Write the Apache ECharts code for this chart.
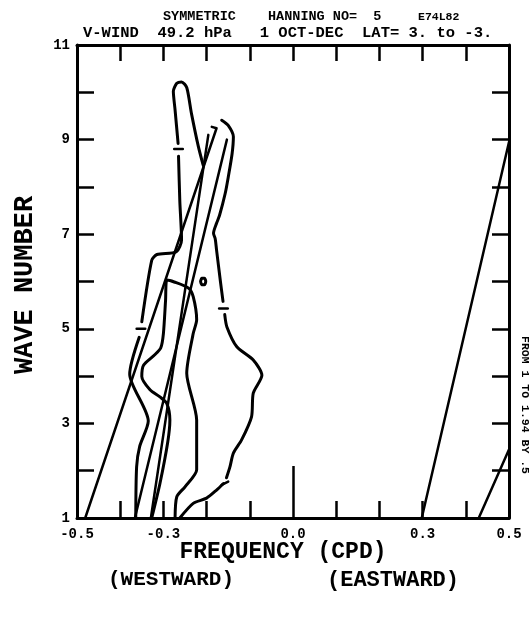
<!DOCTYPE html>
<html>
<head>
<meta charset="utf-8">
<script src="https://cdn.jsdelivr.net/npm/echarts@6/dist/echarts.min.js"></script>
<style>
  html, body { margin: 0; padding: 0; background: #fff; }
  #chart { width: 532px; height: 617px; }
</style>
</head>
<body>
<div id="chart"></div>
<script>
// Axis ticks and labels
const xTickValues = [-0.4, -0.3, -0.2, -0.1, 0.0, 0.1, 0.2, 0.3, 0.4];
const xLabelValues = [-0.5, -0.3, 0.0, 0.3, 0.5];
const yTickValues = [2, 3, 4, 5, 6, 7, 8, 9, 10];
const yLabelValues = [1, 3, 5, 7, 9, 11];

// Contour level 1.0: outer ridge, left flank and finger (label gaps split it)
const outerLeftLow = [
  [-0.364, 1.0], [-0.362, 2.08], [-0.355, 2.51], [-0.335, 3.05],
  [-0.378, 4.04], [-0.356, 4.82]
];
const outerLeftHigh = [
  [-0.350, 5.15], [-0.327, 6.45], [-0.315, 6.57], [-0.270, 6.63],
  [-0.258, 6.88], [-0.262, 7.70], [-0.265, 8.65]
];
const fingerTop = [
  [-0.266, 8.92], [-0.273, 9.63], [-0.277, 10.02], [-0.269, 10.19],
  [-0.258, 10.22], [-0.246, 10.10], [-0.235, 9.55], [-0.219, 8.85],
  [-0.208, 8.46]
];
// Contour level 1.0: right tip, right flank and lobe
const outerRightHigh = [
  [-0.165, 9.41], [-0.150, 9.30], [-0.138, 9.06], [-0.141, 8.70],
  [-0.150, 8.20], [-0.157, 7.86], [-0.170, 7.40], [-0.177, 7.23],
  [-0.184, 7.02], [-0.180, 6.90], [-0.177, 6.67], [-0.168, 6.00],
  [-0.162, 5.58]
];
const outerRightLow = [
  [-0.158, 5.30], [-0.153, 5.04], [-0.130, 4.62], [-0.092, 4.34],
  [-0.072, 4.02], [-0.092, 3.64], [-0.096, 3.14], [-0.119, 2.65],
  [-0.138, 2.37], [-0.146, 2.08], [-0.154, 1.85]
];
const outerBottom = [
  [-0.161, 1.73], [-0.177, 1.59], [-0.200, 1.42], [-0.231, 1.31],
  [-0.262, 1.0]
];
// Contour level 1.5: inner ridge
const innerRidge = [
  [-0.327, 1.0], [-0.308, 1.73], [-0.290, 2.60], [-0.285, 3.07],
  [-0.292, 3.42], [-0.308, 3.56], [-0.331, 3.71], [-0.350, 3.99],
  [-0.346, 4.23], [-0.320, 4.45], [-0.306, 4.60], [-0.300, 4.90],
  [-0.295, 5.60], [-0.292, 6.03], [-0.275, 5.99], [-0.242, 5.86],
  [-0.231, 5.68], [-0.223, 5.19], [-0.231, 4.90], [-0.246, 4.06],
  [-0.223, 3.07], [-0.223, 2.02], [-0.250, 1.66], [-0.269, 1.45],
  [-0.273, 1.0]
];
// Small closed peak contour
const smallPeak = [
  [-0.214, 6.00], [-0.211, 6.07], [-0.205, 6.07], [-0.202, 6.00],
  [-0.205, 5.93], [-0.211, 5.93], [-0.214, 6.00]
];
// Dispersion lines
const westLineA = [[-0.481, 1.0], [-0.177, 9.24], [-0.188, 9.27]];
const westLineB = [[-0.366, 1.0], [-0.153, 9.00]];
const westLineC = [[-0.329, 1.0], [-0.196, 9.10]];
const eastLineA = [[0.298, 1.0], [0.500, 8.95]];
const eastLineB = [[0.430, 1.0], [0.500, 2.45]];
// Contour label dashes
const labelMarks = [
  [[-0.362, 5.00], [-0.342, 5.00]],
  [[-0.275, 8.80], [-0.255, 8.80]],
  [[-0.171, 5.43], [-0.151, 5.43]],
  [[-0.165, 1.70], [-0.150, 1.77]]
];

const ink = '#000';
function font(s) { return 'bold ' + s + 'px "Liberation Mono", "DejaVu Sans Mono", monospace'; }

const chart = echarts.init(document.getElementById('chart'), null, { renderer: 'canvas' });

function lineSeries(data) {
  return {
    type: 'line', data: data, showSymbol: false, symbol: 'none',
    smooth: 0.25, silent: true, animation: false,
    lineStyle: { color: ink, width: 3, cap: 'round', join: 'round' },
    xAxisIndex: 0, yAxisIndex: 0
  };
}
function straight(data) {
  const s = lineSeries(data);
  s.smooth = false;
  s.lineStyle.width = 2.5;
  return s;
}

const contourSets = [outerLeftLow, outerLeftHigh, fingerTop, outerRightHigh,
  outerRightLow, outerBottom, innerRidge, smallPeak];
const series = [];
contourSets.forEach(d => series.push(lineSeries(d)));
[westLineA, westLineB, westLineC, eastLineA, eastLineB].forEach(d => series.push(straight(d)));
labelMarks.forEach(d => series.push(straight(d)));

const fmt = v => (Math.abs(v) < 1e-9 ? '0.0' : v.toFixed(1));

const option = {
  backgroundColor: '#fff',
  animation: false,
  grid: { left: 77, right: 23, top: 45, bottom: 99, containLabel: false },
  xAxis: [
    {
      type: 'value', min: -0.5, max: 0.5, position: 'bottom',
      axisLine: { show: true, onZero: false, lineStyle: { color: ink, width: 3 } },
      axisTick: { show: true, inside: true, length: 17, customValues: xTickValues.filter(v => v !== 0),
        lineStyle: { color: ink, width: 2.5 } },
      axisLabel: { show: true, customValues: xLabelValues, formatter: fmt, margin: 9,
        color: ink, fontFamily: '"Liberation Mono", monospace', fontWeight: 'bold', fontSize: 14 },
      splitLine: { show: false }
    },
    {
      type: 'value', min: -0.5, max: 0.5, position: 'bottom',
      axisLine: { show: false, onZero: false },
      axisTick: { show: true, inside: true, length: 52, customValues: [0],
        lineStyle: { color: ink, width: 2.5 } },
      axisLabel: { show: false }, splitLine: { show: false }
    },
    {
      type: 'value', min: -0.5, max: 0.5, position: 'top',
      axisLine: { show: true, onZero: false, lineStyle: { color: ink, width: 3 } },
      axisTick: { show: true, inside: true, length: 16, customValues: xTickValues,
        lineStyle: { color: ink, width: 2.5 } },
      axisLabel: { show: false }, splitLine: { show: false }
    }
  ],
  yAxis: [
    {
      type: 'value', min: 1, max: 11, position: 'left',
      axisLine: { show: true, onZero: false, lineStyle: { color: ink, width: 3 } },
      axisTick: { show: true, inside: true, length: 17, customValues: yTickValues,
        lineStyle: { color: ink, width: 2.5 } },
      axisLabel: { show: true, customValues: yLabelValues, margin: 7,
        color: ink, fontFamily: '"Liberation Mono", monospace', fontWeight: 'bold', fontSize: 14 },
      splitLine: { show: false }
    },
    {
      type: 'value', min: 1, max: 11, position: 'right',
      axisLine: { show: true, onZero: false, lineStyle: { color: ink, width: 3 } },
      axisTick: { show: true, inside: true, length: 17, customValues: yTickValues,
        lineStyle: { color: ink, width: 2.5 } },
      axisLabel: { show: false }, splitLine: { show: false }
    }
  ],
  series: series,
  graphic: [
    { type: 'text', left: 163, top: 10, style: { text: 'SYMMETRIC', font: font(13.5), fill: ink } },
    { type: 'text', left: 268, top: 10, style: { text: 'HANNING NO=  5', font: font(13.5), fill: ink } },
    { type: 'text', left: 418, top: 11, style: { text: 'E74L82', font: font(11.5), fill: ink } },
    { type: 'text', left: 83, top: 25, style: { text: 'V-WIND  49.2 hPa   1 OCT-DEC  LAT= 3. to -3.', font: font(15.5), fill: ink } },
    { type: 'text', x: 283, y: 552, style: { text: 'FREQUENCY (CPD)', font: font(23), fill: ink, align: 'center', verticalAlign: 'middle' } },
    { type: 'text', x: 171, y: 580, style: { text: '(WESTWARD)', font: font(21), fill: ink, align: 'center', verticalAlign: 'middle' } },
    { type: 'text', x: 393, y: 580, style: { text: '(EASTWARD)', font: font(22), fill: ink, align: 'center', verticalAlign: 'middle' } },
    { type: 'text', x: 25, y: 285, rotation: Math.PI / 2, style: { text: 'WAVE NUMBER', font: font(27), fill: ink, align: 'center', verticalAlign: 'middle' } },
    { type: 'text', x: 525, y: 405, rotation: -Math.PI / 2, style: { text: 'FROM 1 TO 1.94 BY .5', font: font(11.5), fill: ink, align: 'center', verticalAlign: 'middle' } }
  ]
};
chart.setOption(option);
</script>
</body>
</html>
